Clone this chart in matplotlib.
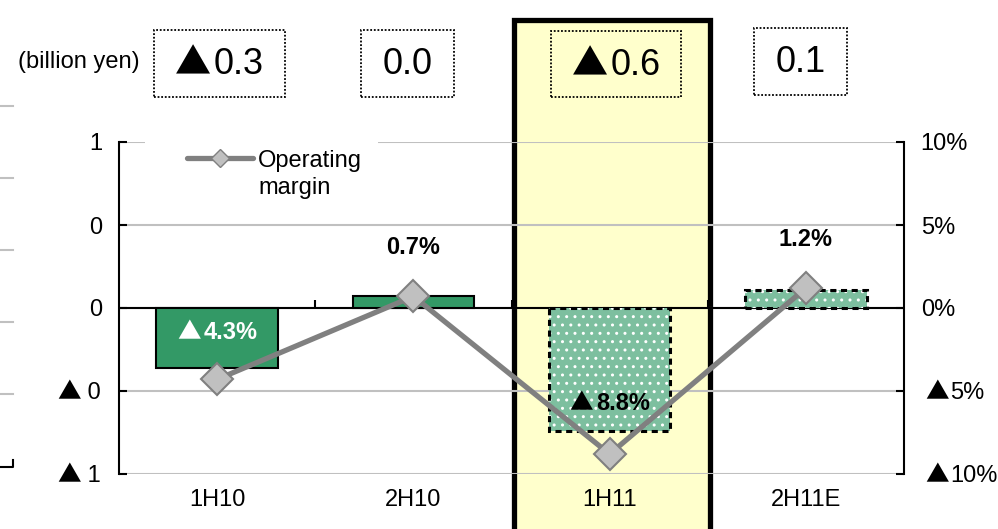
import matplotlib
matplotlib.use("Agg")
import matplotlib.pyplot as plt
from matplotlib.patches import Rectangle
from matplotlib.lines import Line2D
from matplotlib.offsetbox import TextArea, HPacker, AnnotationBbox

plt.rcParams['font.family'] = ['Liberation Sans', 'DejaVu Sans']

# datos
categorias = ['1H10', '2H10', '1H11', '2H11E']
beneficio = [-0.36, 0.07, -0.74, 0.11]          # billion yen (barras)
margen = [-4.3, 0.7, -8.8, 1.2]                 # % (linea)
etiquetas_margen = ['▲4.3%', '0.7%', '▲8.8%', '1.2%']
etiquetas_valor = ['▲0.3', '0.0', '▲0.6', '0.1']
ticks_izq = [-1, -0.5, 0, 0.5, 1]
ticks_izq_txt = ['▲ 1', '▲ 0', '0', '0', '1']
ticks_der = [-10, -5, 0, 5, 10]
ticks_der_txt = ['▲10%', '▲5%', '0%', '5%', '10%']
estimado = [False, False, True, True]

W, H = 998, 529
fig = plt.figure(figsize=(W / 100, H / 100), dpi=100)


def fx(px):
    return px / W


def fy(py):
    return 1 - py / H


# el ▲ del original es grande (fuente japonesa), se pinta aparte con Noto CJK
def texto(padre, xy, coords, s, size, weight='normal', color='black',
          align=(0.5, 0.5), offset=None, sep=2):
    props = dict(fontsize=size, fontweight=weight, color=color)
    if s.startswith('▲'):
        tri = TextArea('▲', textprops=dict(props, family='Noto Sans CJK JP'))
        num = TextArea(s[1:], textprops=props)
        caja = HPacker(children=[tri, num], align='baseline', pad=0, sep=sep)
    else:
        caja = TextArea(s, textprops=props)
    kw = {}
    if offset is not None:
        kw = dict(xybox=offset, boxcoords='offset points')
    ab = AnnotationBbox(caja, xy, xycoords=coords, frameon=False,
                        box_alignment=align, pad=0, zorder=7, **kw)
    padre.add_artist(ab)


ax = fig.add_axes([fx(119), fy(474), fx(904) - fx(119), fy(142) - fy(474)])
ax.patch.set_visible(False)
ax2 = ax.twinx()

# recuadro amarillo del periodo actual
fig.add_artist(Rectangle((fx(514), fy(535)), fx(710) - fx(514), fy(20) - fy(535),
                         transform=fig.transFigure, facecolor='#FFFFCC',
                         edgecolor='black', linewidth=3.8, zorder=-1))

x = list(range(len(categorias)))
ancho = 0.62
for i in x:
    if estimado[i]:
        ax.bar(i, beneficio[i], ancho, color='#7DBF9F', edgecolor='white',
               hatch='..', linewidth=0, zorder=3)
        ax.bar(i, beneficio[i], ancho, fill=False, edgecolor='black',
               linestyle=(0, (2, 1.5)), linewidth=2.2, zorder=4)
    else:
        ax.bar(i, beneficio[i], ancho, color='#339966', edgecolor='black',
               linewidth=1.5, zorder=3)

ax.set_xlim(-0.5, 3.5)
ax.set_ylim(-1, 1)
ax.set_yticks(ticks_izq)
ax.set_yticklabels([t if '▲' not in t else '' for t in ticks_izq_txt], fontsize=17)
ax.set_xticks(x)
ax.set_xticklabels(categorias, fontsize=17)
ax.tick_params(axis='x', length=0, pad=11)
ax.tick_params(axis='y', direction='in', length=6, width=1.5, pad=12)
ax.grid(axis='y', color='#C0C0C0', linewidth=1.5, zorder=0)
ax.set_axisbelow(True)
ax.axhline(0, color='black', linewidth=1.5, zorder=2)
ax.vlines([0.5, 1.5, 2.5], 0, 0.05, color='black', linewidth=1.5, zorder=2)
for s in ['top', 'bottom', 'right']:
    ax.spines[s].set_visible(False)
ax.spines['left'].set_linewidth(1.5)
for v, t in zip(ticks_izq, ticks_izq_txt):
    if '▲' in t:
        texto(ax, (0, v), ax.get_yaxis_transform(), t, 17, align=(1, 0.5),
              offset=(-13, -1), sep=0)

ax2.plot(x, margen, color='#808080', linewidth=3.8, marker='D', markersize=16,
         markerfacecolor='#C0C0C0', markeredgecolor='#808080',
         markeredgewidth=1.5, zorder=5)
ax2.set_ylim(-10, 10)
ax2.set_yticks(ticks_der)
ax2.set_yticklabels([t if '▲' not in t else '' for t in ticks_der_txt], fontsize=17)
ax2.tick_params(axis='y', direction='in', length=6, width=1.5, pad=12)
for s in ['top', 'bottom', 'left']:
    ax2.spines[s].set_visible(False)
ax2.spines['right'].set_linewidth(1.5)
for v, t in zip(ticks_der, ticks_der_txt):
    if '▲' in t:
        texto(ax2, (1, v), ax2.get_yaxis_transform(), t, 17, align=(0, 0.5),
              offset=(15, -1), sep=1.5)

# etiquetas del margen
pos_etiq = [-1.45, 3.65, -5.75, 4.1]
col_etiq = ['white', 'black', 'black', 'black']
for i in x:
    texto(ax2, (i, pos_etiq[i]), ax2.transData, etiquetas_margen[i], 17,
          weight='bold', color=col_etiq[i])

# leyenda manual
ax.add_patch(Rectangle(((145 - 119) / 785, (474 - 210) / 332), 233 / 785, 73 / 332,
                       transform=ax.transAxes, facecolor='white',
                       edgecolor='none', zorder=1))
ax.add_line(Line2D([(187 - 119) / 785, (253 - 119) / 785], [(474 - 158) / 332] * 2,
                   transform=ax.transAxes, color='#808080', linewidth=3.8,
                   solid_capstyle='round', zorder=5))
ax.add_line(Line2D([(220 - 119) / 785], [(474 - 158) / 332],
                   transform=ax.transAxes, marker='D', markersize=9,
                   markerfacecolor='#C0C0C0', markeredgecolor='#808080',
                   markeredgewidth=1, zorder=6))
fig.text(fx(258), fy(150), 'Operating\nmargin', fontsize=17, va='top',
         ha='left', linespacing=1.3)

# unidades y cuadros de valores
fig.text(fx(18), fy(62), '(billion yen)', fontsize=17, va='center', ha='left')
cajas = [(154, 285, 30, 97), (361, 454, 30, 97), (551, 681, 31, 97), (754, 847, 28, 95)]
for (x0, x1, y0, y1), txt in zip(cajas, etiquetas_valor):
    fig.add_artist(Rectangle((fx(x0), fy(y1)), fx(x1) - fx(x0), fy(y0) - fy(y1),
                             transform=fig.transFigure, fill=False,
                             edgecolor='black', linestyle=(0, (1, 1)),
                             linewidth=1.3))
    texto(fig, (fx((x0 + x1) / 2), fy((y0 + y1) / 2 + 1)), fig.transFigure,
          txt, 26, sep=2)

# restos de otro grafico a la izquierda
for py in [106, 178, 250, 322, 394]:
    fig.add_artist(Line2D([0, fx(13)], [fy(py)] * 2, color='#C0C0C0', linewidth=1.5))
fig.add_artist(Line2D([0, fx(13), fx(13)], [fy(467), fy(467), fy(460)],
                      color='black', linewidth=1.5))

fig.savefig('out.png', dpi=100)
